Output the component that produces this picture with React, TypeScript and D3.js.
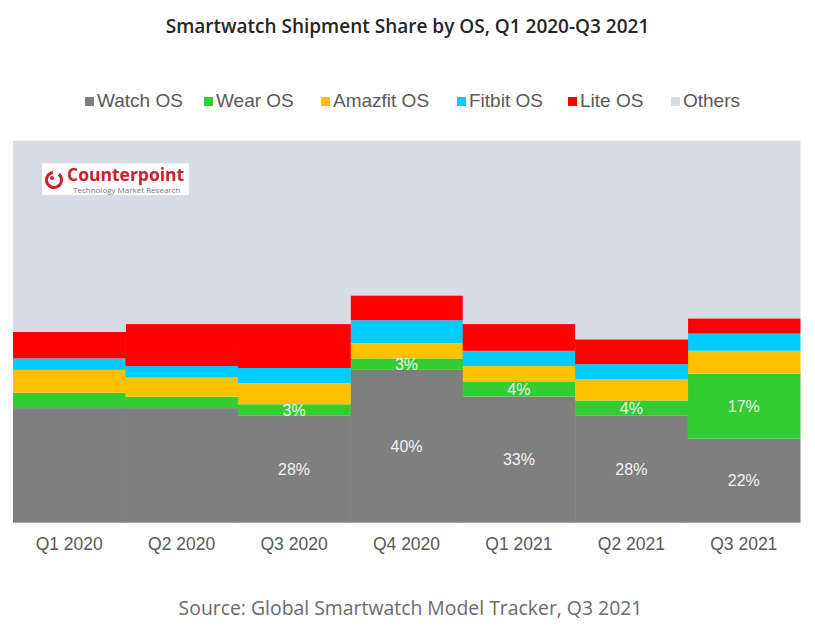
import { useEffect, useRef } from "react";
import * as d3 from "d3";

// Quarter labels
const quarters = ["Q1 2020", "Q2 2020", "Q3 2020", "Q4 2020", "Q1 2021", "Q2 2021", "Q3 2021"];

// Shipment share per OS (%), bottom to top
const watchOS = [30, 30, 28, 40, 33, 28, 22];
const wearOS = [4, 3, 3, 3, 4, 4, 17];
const amazfitOS = [6, 5, 5.5, 4, 4, 5.5, 6];
const fitbitOS = [3, 3, 4, 6, 4, 4, 4.5];
const liteOS = [7, 11, 11.5, 6.5, 7, 6.5, 4];
const others = [50, 48, 48, 40.5, 48, 52, 46.5];

// Which bars carry a value label
const watchLabelShown = [false, false, true, true, true, true, true];
const wearLabelShown = [false, false, true, true, true, true, true];

const seriesNames = ["Watch OS", "Wear OS", "Amazfit OS", "Fitbit OS", "Lite OS", "Others"];
const seriesColors = ["#7f7f7f", "#33cc33", "#ffc000", "#00ccff", "#ff0000", "#d6dce5"];

const W = 815;
const H = 627;

const App: React.FC = () => {
    const svgRef = useRef<SVGSVGElement | null>(null);

    useEffect(() => {
        if (!svgRef.current) return;
        const svg = d3.select(svgRef.current);
        svg.selectAll("*").remove();

        const margin = { top: 140.7, right: 15, bottom: 104.3, left: 13 };
        const plotW = W - margin.left - margin.right;
        const plotH = H - margin.top - margin.bottom;

        const rows = quarters.map((q, i) => ({
            quarter: q,
            "Watch OS": watchOS[i],
            "Wear OS": wearOS[i],
            "Amazfit OS": amazfitOS[i],
            "Fitbit OS": fitbitOS[i],
            "Lite OS": liteOS[i],
            "Others": others[i],
        }));

        const stacked = d3.stack<any>().keys(seriesNames)(rows);

        const x = d3.scaleBand().domain(quarters).range([margin.left, margin.left + plotW]).padding(0);
        const y = d3.scaleLinear().domain([0, 100]).range([margin.top + plotH, margin.top]);
        const color = d3.scaleOrdinal<string>().domain(seriesNames).range(seriesColors);

        // Title
        svg.append("text")
            .attr("x", W / 2)
            .attr("y", 33)
            .attr("text-anchor", "middle")
            .style("font-family", "'Open Sans', sans-serif")
            .style("font-weight", 600)
            .style("font-size", "19px")
            .style("fill", "#262626")
            .text("Smartwatch Shipment Share by OS, Q1 2020-Q3 2021");

        // Stacked bars
        svg.append("g")
            .selectAll("g")
            .data(stacked)
            .enter()
            .append("g")
            .attr("fill", d => color(d.key))
            .selectAll("rect")
            .data(d => d)
            .enter()
            .append("rect")
            .attr("x", d => x(d.data.quarter) as number)
            .attr("width", x.bandwidth() + 0.5)
            .attr("y", d => y(d[1]))
            .attr("height", d => y(d[0]) - y(d[1]));

        // Value labels
        const labelLayers = [
            { layer: stacked[0], shown: watchLabelShown, values: watchOS },
            { layer: stacked[1], shown: wearLabelShown, values: wearOS },
        ];
        labelLayers.forEach(({ layer, shown, values }) => {
            svg.append("g")
                .selectAll("text")
                .data(layer.filter((_, i) => shown[i]))
                .enter()
                .append("text")
                .attr("x", d => (x(d.data.quarter) as number) + x.bandwidth() / 2)
                .attr("y", d => (y(d[0]) + y(d[1])) / 2)
                .attr("dy", "0.36em")
                .attr("text-anchor", "middle")
                .style("font-family", "'Liberation Sans', Arial, sans-serif")
                .style("font-size", "16px")
                .style("fill", "#f2f2f2")
                .text(d => `${values[quarters.indexOf(d.data.quarter)]}%`);
        });

        // X axis labels
        svg.append("g")
            .selectAll("text")
            .data(quarters)
            .enter()
            .append("text")
            .attr("x", d => (x(d) as number) + x.bandwidth() / 2)
            .attr("y", 550)
            .attr("text-anchor", "middle")
            .style("font-family", "'Liberation Sans', Arial, sans-serif")
            .style("font-size", "17.5px")
            .style("fill", "#595959")
            .text(d => d);

        // Legend (swatch positions follow the original layout)
        const legendX = [85, 204, 321, 457, 568, 671];
        const legend = svg.append("g").attr("transform", "translate(0,107)");
        const items = legend.selectAll("g")
            .data(seriesNames)
            .enter()
            .append("g")
            .attr("transform", (_, i) => `translate(${legendX[i]},0)`);
        items.append("rect")
            .attr("y", -10)
            .attr("width", 9)
            .attr("height", 9)
            .attr("fill", d => color(d));
        items.append("text")
            .attr("x", 12)
            .style("font-family", "'Liberation Sans', Arial, sans-serif")
            .style("font-size", "19px")
            .style("fill", "#595959")
            .text(d => d);

        // Counterpoint badge
        const badge = svg.append("g").attr("transform", "translate(42,163.5)");
        badge.append("rect").attr("width", 147).attr("height", 31.5).attr("fill", "#ffffff");
        const ring = d3.arc()({ innerRadius: 6, outerRadius: 9, startAngle: 0.7, endAngle: Math.PI * 2 - 0.15 });
        badge.append("path")
            .attr("d", ring as string)
            .attr("transform", "translate(12,16.5)")
            .attr("fill", "#d0202e");
        badge.append("circle")
            .attr("cx", 10).attr("cy", 14.5).attr("r", 2)
            .attr("fill", "#d0202e");
        badge.append("text")
            .attr("x", 25).attr("y", 17)
            .style("font-family", "'Open Sans', sans-serif")
            .style("font-weight", 700)
            .style("font-size", "17.5px")
            .style("fill", "#c8202f")
            .text("Counterpoint");
        badge.append("text")
            .attr("x", 31).attr("y", 29.5)
            .style("font-family", "'Open Sans', sans-serif")
            .style("font-size", "8px")
            .style("fill", "#777777")
            .text("Technology Market Research");

        // Source note
        svg.append("text")
            .attr("x", W / 2 + 3)
            .attr("y", 615)
            .attr("text-anchor", "middle")
            .style("font-family", "'Open Sans', sans-serif")
            .style("font-size", "19.4px")
            .style("fill", "#6b6b6b")
            .text("Source: Global Smartwatch Model Tracker, Q3 2021");
    }, []);

    return (
        <div style={{ position: "absolute", left: 0, top: 0 }}>
            <svg ref={svgRef} width={W} height={H} style={{ display: "block", background: "#ffffff" }}></svg>
        </div>
    );
};

export default App;
